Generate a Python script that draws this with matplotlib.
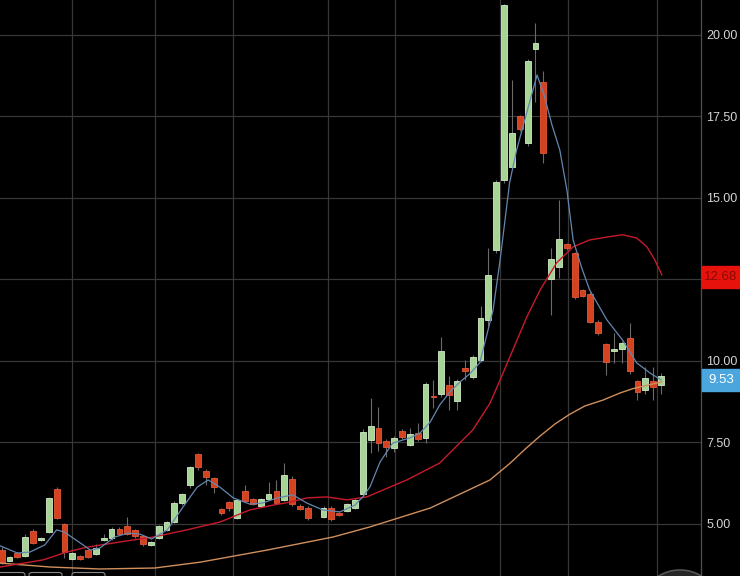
import matplotlib
matplotlib.use("Agg")
import matplotlib.pyplot as plt
from matplotlib.patches import Rectangle, FancyBboxPatch, Ellipse
from matplotlib.transforms import blended_transform_factory

plt.rcParams['font.family'] = ['Liberation Sans', 'DejaVu Sans']

# candle positions (slot 40 has no visible candle)
idx = list(range(0, 40)) + list(range(41, 85))

opens = [4.20, 3.88, 4.12, 4.02, 4.80, 4.50, 4.76, 6.07, 5.00, 3.94,
         4.02, 4.20, 4.08, 4.50, 4.56, 4.86, 4.94, 4.82, 4.63, 4.35,
         4.58, 4.82, 5.05, 5.63, 6.20, 7.15, 6.64, 6.40, 5.45, 5.67,
         5.19, 6.02, 5.77, 5.55, 5.76, 6.01, 5.74, 6.37, 5.55, 5.50,
         5.21, 5.50, 5.35, 5.41, 5.48, 5.91, 7.58, 7.94, 7.55,
         7.32, 7.85, 7.42, 7.79, 7.63, 8.92, 8.98, 9.26, 8.78, 9.78,
         9.50, 10.02, 11.26, 13.40, 15.55, 15.96, 17.51, 16.68, 19.57, 18.55,
         12.50, 12.87, 13.58, 13.30, 12.18, 12.06, 11.21, 10.51, 10.31, 10.36,
         10.69, 9.39, 9.10, 9.39, 9.26]
closes = [3.83, 3.98, 4.00, 4.61, 4.41, 4.57, 5.79, 5.19, 4.15, 4.10,
          3.94, 4.00, 4.25, 4.57, 4.86, 4.69, 4.69, 4.63, 4.38, 4.45,
          4.94, 5.06, 5.65, 5.92, 6.74, 6.74, 6.45, 6.14, 5.33, 5.48,
          5.74, 5.71, 5.61, 5.77, 5.91, 5.65, 6.49, 5.60, 5.47, 5.17,
          5.50, 5.16, 5.29, 5.60, 5.74, 7.83, 8.01, 7.48, 7.35,
          7.65, 7.68, 7.75, 7.61, 9.29, 8.90, 10.32, 8.96, 9.40, 9.70,
          10.13, 11.33, 12.64, 15.50, 20.92, 16.98, 17.10, 19.21, 19.74, 16.38,
          13.13, 13.73, 13.45, 11.95, 12.00, 11.21, 10.87, 9.98, 10.36, 10.56,
          9.69, 9.04, 9.49, 9.19, 9.53]
highs = [4.28, 4.02, 4.15, 4.68, 4.85, 4.60, 5.83, 6.12, 5.03, 4.14,
         4.05, 4.24, 4.40, 4.68, 4.90, 4.90, 5.20, 4.86, 4.66, 4.48,
         4.98, 5.10, 5.70, 5.96, 6.78, 7.18, 6.68, 6.43, 5.50, 5.72,
         5.78, 6.20, 5.80, 5.80, 6.30, 6.35, 6.87, 6.47, 5.60, 5.54,
         5.54, 5.54, 5.38, 5.63, 5.80, 7.90, 8.87, 8.60, 7.60,
         7.70, 7.90, 7.94, 8.10, 9.37, 9.42, 10.75, 9.53, 9.45, 10.03,
         10.18, 11.70, 13.47, 15.55, 20.95, 18.62, 17.55, 19.25, 20.35, 18.90,
         13.47, 14.94, 13.62, 13.35, 12.22, 12.10, 11.25, 10.55, 10.86, 10.60,
         11.17, 9.42, 9.80, 9.83, 9.63]
lows = [3.78, 3.85, 3.97, 3.98, 4.38, 4.48, 4.72, 5.15, 3.95, 3.90,
        3.90, 3.96, 4.05, 4.47, 4.52, 4.65, 4.65, 4.58, 4.33, 4.32,
        4.55, 4.78, 5.02, 5.58, 6.10, 6.65, 6.20, 5.95, 5.28, 5.40,
        5.15, 5.68, 5.58, 5.52, 5.73, 5.62, 5.70, 5.55, 5.44, 5.13,
        5.17, 5.10, 5.26, 5.38, 5.45, 5.85, 7.18, 7.25, 7.05,
        7.20, 7.62, 7.38, 7.56, 7.48, 8.56, 8.90, 8.50, 8.50, 9.42,
        9.45, 9.98, 11.05, 13.30, 15.45, 15.90, 17.05, 16.60, 17.95, 16.06,
        11.41, 12.55, 13.40, 11.90, 11.95, 11.15, 10.80, 9.57, 9.94, 9.95,
        9.60, 8.80, 9.00, 8.80, 9.00]

# moving averages (candle slot, price)
ma_fast_x = [-0.2, 2.0, 3.6, 5.5, 7.0, 8.0, 10.0, 11.3, 12.5, 14.4, 16.1, 17.6, 19.1,
             21.1, 23.1, 24.9, 26.3, 27.8, 29.5, 31.6, 33.2, 35.1, 37.1, 38.9, 40.9,
             43.1, 45.0, 46.0, 46.9, 48.2, 49.8, 52.0, 53.3, 54.6, 55.8, 57.1, 58.4,
             59.6, 60.9, 62.6, 63.5, 64.7, 65.6, 66.4, 68.2, 69.1, 70.1, 71.1, 72.0,
             72.8, 73.9, 74.9, 77.1, 79.1, 80.9, 82.6, 84.0]
ma_fast_y = [4.33, 4.11, 4.14, 4.36, 4.82, 4.75, 4.42, 4.20, 4.26, 4.60, 4.72, 4.69, 4.54,
             4.82, 5.52, 6.13, 6.35, 6.13, 5.80, 5.61, 5.64, 5.80, 5.89, 5.64, 5.43,
             5.37, 5.58, 5.83, 6.13, 6.90, 7.48, 7.64, 7.79, 8.13, 8.65, 9.05, 9.36,
             9.60, 9.94, 11.56, 13.10, 15.46, 16.47, 17.18, 18.77, 18.16, 17.24, 16.47, 15.25,
             13.71, 12.85, 12.18, 11.26, 10.64, 9.94, 9.63, 9.42]

ma_mid_x = [-0.2, 5.3, 8.3, 10.9, 15.1, 19.3, 23.6, 27.8, 31.6, 34.6, 36.7, 38.9, 41.4,
            44.0, 46.5, 51.6, 55.8, 60.0, 62.2, 63.5, 66.9, 68.6, 70.7, 72.8, 74.9,
            77.1, 79.1, 80.9, 82.2, 83.2, 84.1]
ma_mid_y = [3.68, 3.90, 4.14, 4.29, 4.45, 4.60, 4.82, 5.06, 5.43, 5.58, 5.67, 5.80, 5.83,
            5.74, 5.83, 6.35, 6.87, 7.88, 8.70, 9.42, 11.35, 12.18, 13.01, 13.50, 13.71,
            13.80, 13.87, 13.77, 13.50, 13.10, 12.64]

ma_slow_x = [-0.2, 6.2, 12.5, 19.5, 25.3, 33.8, 42.2, 46.9, 54.6, 62.2, 64.8, 66.7,
             68.6, 70.5, 72.4, 74.3, 76.6, 78.8, 80.4, 82.0, 84.1]
ma_slow_y = [3.80, 3.68, 3.62, 3.65, 3.83, 4.20, 4.60, 4.91, 5.49, 6.35, 6.87, 7.30,
             7.70, 8.07, 8.37, 8.62, 8.80, 9.02, 9.15, 9.24, 9.36]

price_ticks = [5.0, 7.5, 10.0, 12.5, 15.0, 17.5, 20.0]
date_grid = [8.96, 19.53, 29.46, 41.57, 50.10, 63.48, 72.14, 83.48]
mid_last = 12.68
last_close = 9.53

BG = '#000000'
GRID = '#373737'
UP_FACE, UP_EDGE = '#a5d495', '#d2ebc8'
DN_FACE, DN_EDGE = '#d5421f', '#e2583a'

fig = plt.figure(figsize=(7.4, 5.76), dpi=100, facecolor=BG)
ax = fig.add_axes([0, 0, 701 / 740, 1], facecolor=BG)

# grid
for v in price_ticks:
    ax.axhline(v, color=GRID, lw=0.9, zorder=0)
for g in date_grid:
    ax.axvline(g, color=GRID, lw=0.9, zorder=0)

# candles
ax.vlines(idx, lows, highs, color='#6a6a6a', lw=0.8, zorder=2)
for x, o, c in zip(idx, opens, closes):
    up = c >= o
    h = max(abs(c - o), 0.04)
    ax.bar(x, h, bottom=min(o, c), width=0.74,
           color=UP_FACE if up else DN_FACE,
           edgecolor=UP_EDGE if up else DN_EDGE, lw=0.6, zorder=3)

# moving averages
ax.plot(ma_slow_x, ma_slow_y, color='#d08f5c', lw=1.0, zorder=4)
ax.plot(ma_mid_x, ma_mid_y, color='#c81a2c', lw=1.0, zorder=4)
ax.plot(ma_fast_x, ma_fast_y, color='#6487b0', lw=0.9, zorder=4)

ax.set_xlim(-0.217, 89.09)
ax.set_ylim(3.405, 21.07)
ax.set_xticks([])
ax.yaxis.tick_right()
ax.set_yticks(price_ticks)
ax.set_yticklabels(['%.2f' % v for v in price_ticks])
ax.tick_params(axis='y', length=0, pad=4, labelsize=9, labelcolor='#d4d4d4')
for s in ['top', 'bottom', 'left']:
    ax.spines[s].set_visible(False)
ax.spines['right'].set_color('#505050')
ax.spines['right'].set_linewidth(0.9)

# price tags on the axis
tr = blended_transform_factory(fig.transFigure, ax.transData)
px = 1 / 32.6  # price per pixel
ax.add_patch(Rectangle((702 / 740, mid_last - 0.1 - 11 * px), 38 / 740, 22 * px,
                       transform=tr, clip_on=False, color='#e8120c', zorder=5))
fig.text(721 / 740, 0, '%.2f' % mid_last, transform=tr, ha='center', va='center',
         fontsize=9.5, color='#8a0a05', zorder=6).set_y(mid_last - 0.1)
ax.add_patch(Rectangle((702 / 740, last_close - 0.1 - 11 * px), 38 / 740, 22 * px,
                       transform=tr, clip_on=False, color='#4aa6dc', zorder=5))
fig.text(721 / 740, 0, '%.2f' % last_close, transform=tr, ha='center', va='center',
         fontsize=9.5, color='white', zorder=6).set_y(last_close - 0.1)

# cut-off date boxes and button at the bottom edge
for x0, w in [(-6, 31), (29, 33), (72, 33)]:
    fig.patches.append(FancyBboxPatch((x0 / 740, -10 / 576), w / 740, 13.5 / 576,
                                      boxstyle='round,pad=0,rounding_size=0.004',
                                      transform=fig.transFigure, fc=BG, ec='#8a8a8a', lw=0.8))
fig.patches.append(Ellipse((680 / 740, -35 / 576), 82 / 740, 82 / 576,
                           transform=fig.transFigure, fc='#262626', ec='#555555', lw=1.2))

fig.savefig('out.png', dpi=100, facecolor=BG)
